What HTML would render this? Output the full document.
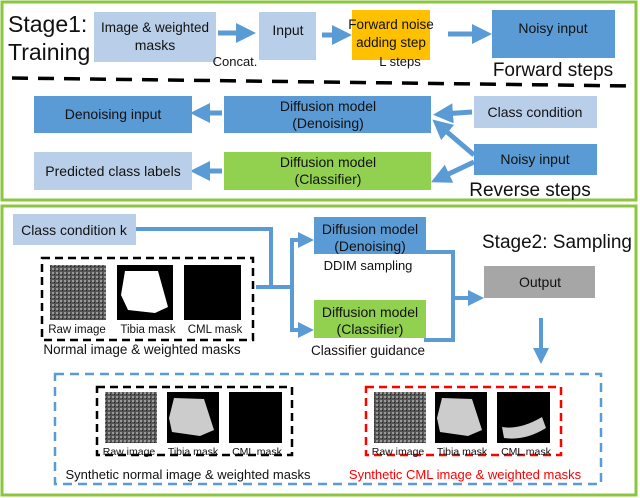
<!DOCTYPE html><html><head><style>body{margin:0;background:#fff}svg{display:block}text{font-family:"Liberation Sans",sans-serif}</style></head><body>
<svg width="640" height="498" viewBox="0 0 640 498" xmlns="http://www.w3.org/2000/svg">
<defs>
<marker id="a" markerWidth="4" markerHeight="4" refX="2" refY="2" orient="auto" markerUnits="strokeWidth"><path d="M0,0 L4,2 L0,4z" fill="#5b9bd5"/></marker>
<pattern id="tex" width="4" height="4" patternUnits="userSpaceOnUse"><rect width="4" height="4" fill="#555"/><rect width="2" height="2" fill="#999"/><rect x="2" y="2" width="1" height="1" fill="#222"/></pattern>
</defs>
<rect x="2" y="2" width="634" height="198" fill="none" stroke="#8cc63f" stroke-width="3"/>
<rect x="2" y="206" width="634" height="289" fill="none" stroke="#8cc63f" stroke-width="3"/>
<g font-size="14" text-anchor="middle" fill="#111">
<text x="8" y="32" font-size="23" text-anchor="start">Stage1:</text>
<text x="8" y="60" font-size="23" text-anchor="start">Training</text>
<rect x="94" y="12" width="122" height="50" fill="#b9cfe9"/><text x="155" y="32" font-size="13.5">Image &amp; weighted</text><text x="155" y="50">masks</text>
<rect x="259" y="12" width="57" height="48" fill="#b9cfe9"/><text x="288" y="35">Input</text>
<rect x="352" y="10" width="78" height="50" fill="#ffc000"/><text x="391" y="29" font-size="13.5">Forward noise</text><text x="391" y="47" font-size="13.5">adding step</text>
<rect x="492" y="10" width="123" height="48" fill="#5b9bd5"/><text x="553" y="33">Noisy input</text>
<text x="235" y="66" font-size="13">Concat.</text><text x="400" y="66" font-size="13">L steps</text>
<text x="553" y="76" font-size="19">Forward steps</text>
<g stroke="#5b9bd5" stroke-width="5" fill="none"><line x1="218" y1="33" x2="246" y2="33" marker-end="url(#a)"/><line x1="322" y1="35" x2="342" y2="35" marker-end="url(#a)"/><line x1="448" y1="34" x2="482" y2="34" marker-end="url(#a)"/>
<line x1="472" y1="112" x2="443" y2="114" marker-end="url(#a)"/><line x1="474" y1="155" x2="440" y2="126" marker-end="url(#a)"/><line x1="474" y1="162" x2="440" y2="178" marker-end="url(#a)"/>
<line x1="222" y1="113" x2="200" y2="113" marker-end="url(#a)"/><line x1="222" y1="171" x2="200" y2="171" marker-end="url(#a)"/></g>
<line x1="12" y1="78" x2="632" y2="86" stroke="#000" stroke-width="3.5" stroke-dasharray="16,10"/>
<rect x="34" y="96" width="158" height="37" fill="#5b9bd5"/><text x="113" y="119">Denoising input</text>
<rect x="224" y="96" width="207" height="37" fill="#5b9bd5"/><text x="328" y="111">Diffusion model</text><text x="328" y="128">(Denoising)</text>
<rect x="474" y="96" width="123" height="32" fill="#b9cfe9"/><text x="535" y="117">Class condition</text>
<rect x="474" y="144" width="123" height="31" fill="#5b9bd5"/><text x="535" y="164">Noisy input</text>
<rect x="34" y="152" width="158" height="38" fill="#b9cfe9"/><text x="113" y="176">Predicted class labels</text>
<rect x="224" y="152" width="207" height="38" fill="#92d050"/><text x="328" y="167">Diffusion model</text><text x="328" y="184">(Classifier)</text>
<text x="530" y="196" font-size="19">Reverse steps</text>
<text x="632" y="248" font-size="19" text-anchor="end">Stage2: Sampling</text>
<rect x="13" y="214" width="123" height="31" fill="#b9cfe9"/><text x="74" y="235">Class condition k</text>
<g stroke="#5b9bd5" stroke-width="4" fill="none"><polyline points="136,229 271,229 271,287"/><line x1="256" y1="287" x2="292" y2="287"/><polyline points="306,240 292,240 292,330 306,330"/>
<polyline points="426,252 453,252 453,340 424,340"/><line x1="453" y1="298" x2="476" y2="298" marker-end="url(#a)"/><line x1="541" y1="318" x2="541" y2="356" marker-end="url(#a)"/>
<line x1="296" y1="240" x2="306" y2="240" marker-end="url(#a)"/><line x1="296" y1="330" x2="306" y2="330" marker-end="url(#a)"/></g>
<rect x="314" y="217" width="112" height="37" fill="#5b9bd5"/><text x="370" y="234">Diffusion model</text><text x="370" y="251">(Denoising)</text>
<text x="368" y="270" font-size="13">DDIM sampling</text>
<rect x="314" y="300" width="112" height="38" fill="#92d050"/><text x="370" y="317">Diffusion model</text><text x="370" y="334">(Classifier)</text>
<text x="368" y="355" font-size="13.5">Classifier guidance</text>
<rect x="484" y="266" width="111" height="32" fill="#a6a6a6"/><text x="540" y="287">Output</text>
<rect x="42" y="258" width="211" height="82" fill="none" stroke="#000" stroke-width="2.5" stroke-dasharray="8,5"/>
<rect x="50" y="265" width="56" height="55" fill="url(#tex)"/><rect x="117" y="265" width="56" height="55" fill="#000"/><path d="M125,271 L158,271 L168,307 L155,313 L128,310 L121,295z" fill="#fff"/><rect x="184" y="265" width="57" height="55" fill="#000"/>
<g font-size="11.5"><text x="77" y="333">Raw image</text><text x="148" y="333">Tibia mask</text><text x="215" y="333">CML mask</text></g>
<text x="142" y="354" font-size="13.5">Normal image &amp; weighted masks</text>
<rect x="55" y="374" width="546" height="110" fill="none" stroke="#5b9bd5" stroke-width="2.5" stroke-dasharray="9,6"/>
<rect x="97" y="387" width="195" height="68" fill="none" stroke="#000" stroke-width="2.5" stroke-dasharray="8,5"/>
<rect x="366" y="387" width="195" height="68" fill="none" stroke="#f00" stroke-width="2.5" stroke-dasharray="8,5"/>
<rect x="105" y="392" width="52" height="51" fill="url(#tex)"/><rect x="167" y="392" width="52" height="51" fill="#000"/><path d="M174,398 L204,399 L214,430 L200,436 L172,432 L169,418z" fill="#ccc"/><rect x="229" y="392" width="53" height="51" fill="#000"/>
<rect x="374" y="392" width="52" height="51" fill="url(#tex)"/><rect x="435" y="392" width="52" height="51" fill="#000"/><path d="M442,398 L472,399 L482,430 L468,436 L440,432 L437,418z" fill="#ccc"/><rect x="497" y="392" width="53" height="51" fill="#000"/><path d="M502,427 Q520,430 542,417 L546,428 Q525,441 504,438z" fill="#ccc"/>
<g font-size="10.5"><text x="129" y="455">Raw image</text><text x="193" y="455">Tibia mask</text><text x="257" y="455">CML mask</text>
<text x="398" y="455">Raw image</text><text x="462" y="455">Tibia mask</text><text x="526" y="455">CML mask</text></g>
<text x="188" y="479" font-size="13">Synthetic normal image &amp; weighted masks</text>
<text x="465" y="479" font-size="13" fill="#f00">Synthetic CML image &amp; weighted masks</text>
</g>
</svg></body></html>
